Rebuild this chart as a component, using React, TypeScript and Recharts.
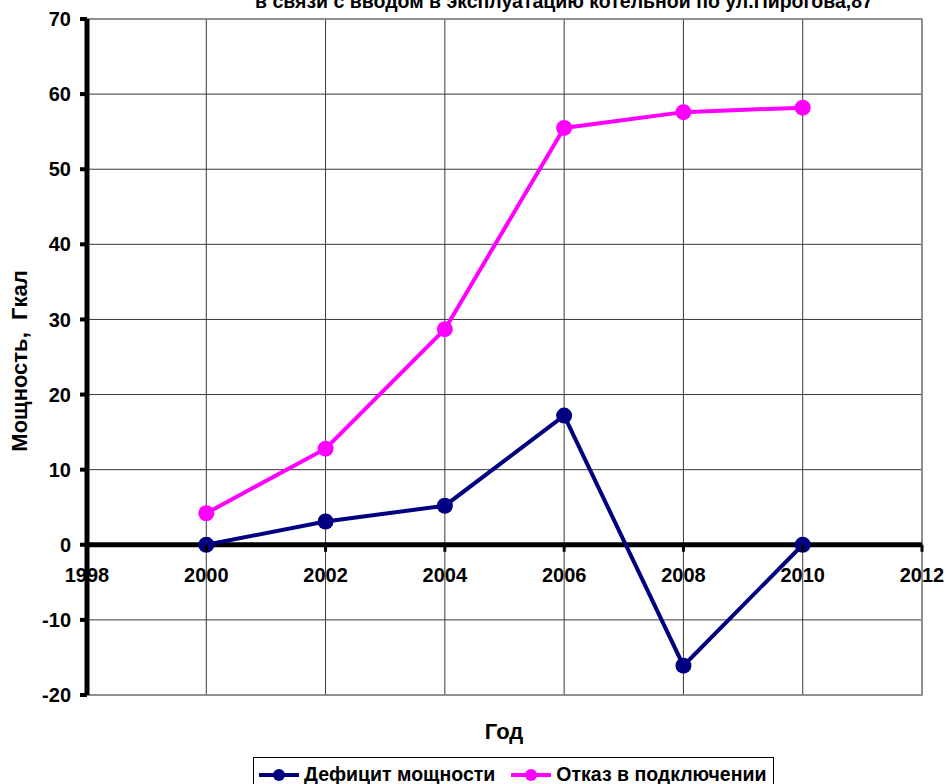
import React from "react";
import {
  LineChart,
  Line,
  XAxis,
  YAxis,
  CartesianGrid,
  ReferenceLine,
  ReferenceArea,
} from "recharts";

// Годы наблюдений
const years = [2000, 2002, 2004, 2006, 2008, 2010];
// Дефицит мощности, Гкал
const deficit = [0, 3.1, 5.2, 17.2, -16.1, 0];
// Отказ в подключении, Гкал
const refusal = [4.2, 12.8, 28.7, 55.5, 57.6, 58.2];

const xTicks = [1998, 2000, 2002, 2004, 2006, 2008, 2010, 2012];
const yTicks = [-20, -10, 0, 10, 20, 30, 40, 50, 60, 70];

const seriesNames = ["Дефицит мощности", "Отказ в подключении"];
const seriesColors = ["#000080", "#FF00FF"];

const titleText = "в связи с вводом в эксплуатацию котельной по ул.Пирогова,87";
const yLabel = "Мощность,  Гкал";
const xLabel = "Год";

const data = years.map((y, i) => ({
  year: y,
  deficit: deficit[i],
  refusal: refusal[i],
}));

const FONT = "'Liberation Sans', Arial, sans-serif";

const W = 946;
const H = 784;
const MARGIN = { top: 19, right: 24, bottom: 88, left: 27 };
const Y_AXIS_W = 60;
const X_AXIS_H = 1;
const PLOT_TOP = MARGIN.top;
const PLOT_H = H - MARGIN.top - MARGIN.bottom - X_AXIS_H;
const Y_MIN = yTicks[0];
const Y_MAX = yTicks[yTicks.length - 1];
// pixel row of the zero value, where the x axis crosses
const ZERO_Y = PLOT_TOP + ((Y_MAX - 0) / (Y_MAX - Y_MIN)) * PLOT_H;

const XTick = (props: any) => {
  const { x, payload } = props;
  const isEdge = payload.value === xTicks[0];
  return (
    <g>
      {!isEdge && (
        <line
          x1={x}
          x2={x}
          y1={ZERO_Y}
          y2={ZERO_Y + 7}
          stroke="#000"
          strokeWidth={3}
        />
      )}
      <text
        x={x}
        y={ZERO_Y + 37}
        textAnchor="middle"
        fontFamily={FONT}
        fontWeight="bold"
        fontSize={20}
        fill="#000"
      >
        {payload.value}
      </text>
    </g>
  );
};

const LegendItem = ({ color, label }: { color: string; label: string }) => (
  <span style={{ display: "inline-flex", alignItems: "center", marginRight: 15 }}>
    <svg width={42} height={14} style={{ marginRight: 4 }}>
      <line x1={1} x2={41} y1={7} y2={7} stroke={color} strokeWidth={4} />
      <circle cx={21} cy={7} r={6} fill={color} />
    </svg>
    <span>{label}</span>
  </span>
);

export default function App() {
  return (
    <div
      style={{
        position: "absolute",
        left: 0,
        top: 0,
        width: W,
        height: H,
        background: "#fff",
        overflow: "hidden",
      }}
    >
      <LineChart width={W} height={H} data={data} margin={MARGIN}>
        <CartesianGrid stroke="#383838" strokeWidth={1} />
        <ReferenceArea
          x1={xTicks[0]}
          x2={xTicks[xTicks.length - 1]}
          y1={Y_MIN}
          y2={Y_MAX}
          fill="none"
          stroke="#8c8c8c"
          strokeWidth={1.5}
          fillOpacity={0}
        />
        <XAxis
          dataKey="year"
          type="number"
          domain={[xTicks[0], xTicks[xTicks.length - 1]]}
          ticks={xTicks}
          height={X_AXIS_H}
          axisLine={false}
          tickLine={false}
          tick={<XTick />}
          interval={0}
        />
        <YAxis
          type="number"
          domain={[Y_MIN, Y_MAX]}
          ticks={yTicks}
          width={Y_AXIS_W}
          interval={0}
          axisLine={{ stroke: "#000", strokeWidth: 5 }}
          tickLine={{ stroke: "#000", strokeWidth: 4 }}
          tickSize={7}
          tickMargin={9}
          tick={{
            fill: "#000",
            fontFamily: FONT,
            fontWeight: "bold",
            fontSize: 20,
          }}
        />
        <ReferenceLine y={0} stroke="#000" strokeWidth={5} ifOverflow="extendDomain" />
        <Line
          type="linear"
          dataKey="deficit"
          name={seriesNames[0]}
          stroke={seriesColors[0]}
          strokeWidth={4}
          dot={{ r: 8, fill: seriesColors[0], stroke: seriesColors[0], strokeWidth: 0 }}
          isAnimationActive={false}
        />
        <Line
          type="linear"
          dataKey="refusal"
          name={seriesNames[1]}
          stroke={seriesColors[1]}
          strokeWidth={4}
          dot={{ r: 8, fill: seriesColors[1], stroke: seriesColors[1], strokeWidth: 0 }}
          isAnimationActive={false}
        />
      </LineChart>

      <svg
        width={W}
        height={H}
        style={{ position: "absolute", left: 0, top: 0, pointerEvents: "none" }}
      >
        <text
          x={564}
          y={8}
          textAnchor="middle"
          fontFamily={FONT}
          fontWeight="bold"
          fontSize={19.5}
          fill="#000"
        >
          {titleText}
        </text>
        <text
          x={0}
          y={0}
          transform="translate(27, 361) rotate(-90)"
          textAnchor="middle"
          fontFamily={FONT}
          fontWeight="bold"
          fontSize={22}
          fill="#000"
          style={{ whiteSpace: "pre" }}
        >
          {yLabel}
        </text>
        <text
          x={504}
          y={739}
          textAnchor="middle"
          fontFamily={FONT}
          fontWeight="bold"
          fontSize={22}
          fill="#000"
        >
          {xLabel}
        </text>
      </svg>

      <div
        style={{
          position: "absolute",
          left: 253,
          top: 757,
          width: 521,
          height: 32,
          border: "1px solid #000",
          boxSizing: "border-box",
          fontFamily: FONT,
          fontWeight: "bold",
          fontSize: 19.5,
          display: "flex",
          alignItems: "flex-start",
          paddingLeft: 4,
          paddingTop: 5,
          whiteSpace: "nowrap",
        }}
      >
        <LegendItem color={seriesColors[0]} label={seriesNames[0]} />
        <LegendItem color={seriesColors[1]} label={seriesNames[1]} />
      </div>
    </div>
  );
}
